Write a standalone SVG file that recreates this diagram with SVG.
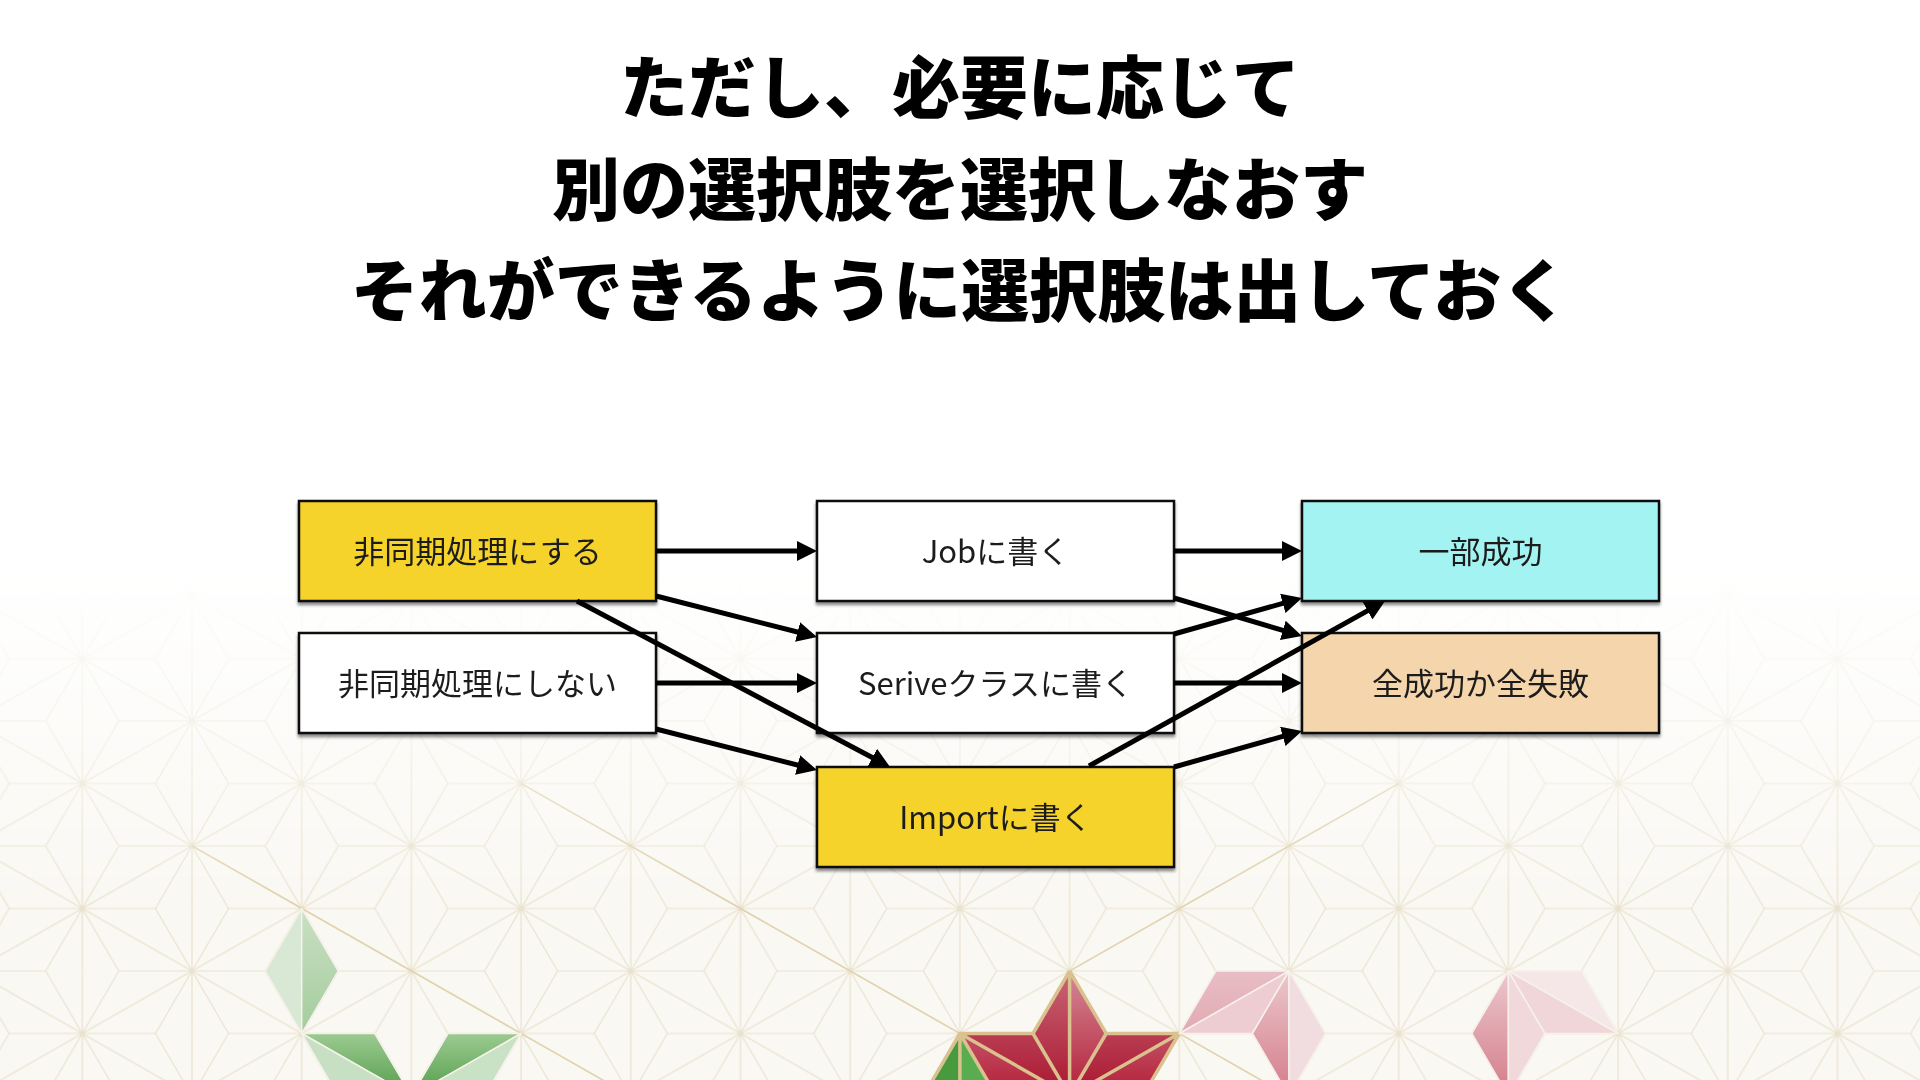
<svg xmlns="http://www.w3.org/2000/svg" width="1920" height="1080" viewBox="0 0 1920 1080">
<style>
.title{font-family:"Noto Sans CJK JP","Noto Sans CJK SC",sans-serif;font-weight:900;font-size:68px;fill:#000;text-anchor:middle}
.label{font-family:"Noto Sans CJK JP","Noto Sans CJK SC",sans-serif;font-weight:400;font-size:31px;fill:#1c1c1c;text-anchor:middle}
.box{stroke:#111;stroke-width:2.5}
.edge{stroke:#000;stroke-width:5;fill:none;marker-end:url(#arrow)}
.pl{stroke:#e9e2ce;stroke-width:1.2;fill:none}
.dl{stroke:#dfd1aa;stroke-width:1.4;fill:none}
.gold{stroke:#d9c28f;stroke-width:3.5;fill:none;stroke-linejoin:round}
.sh{stroke:#f6f2ea;stroke-width:1.5;stroke-linejoin:round}
</style>
<defs>
<marker id="arrow" markerUnits="userSpaceOnUse" markerWidth="20" markerHeight="20" refX="10" refY="10" orient="auto">
<path d="M0,0 L20,10 L0,20 Z" fill="#000"/>
</marker>
<filter id="shadow" x="-5%" y="-10%" width="110%" height="130%">
<feDropShadow dx="0" dy="3" stdDeviation="1.5" flood-color="#000" flood-opacity="0.45"/>
</filter>
<pattern id="asa" patternUnits="userSpaceOnUse" x="82.3" y="33.5" width="219.4" height="125">
<path class="pl" d="M0,0V125M109.7,0V125M219.4,0V125M0,0L219.4,125M0,125L219.4,0
M36.57,62.5L0,0M36.57,62.5L0,125M36.57,62.5L109.7,62.5
M182.83,62.5L219.4,0M182.83,62.5L219.4,125M182.83,62.5L109.7,62.5
M73.13,0L0,0M73.13,0L109.7,62.5M73.13,0L109.7,-62.5
M146.27,0L219.4,0M146.27,0L109.7,62.5M146.27,0L109.7,-62.5
M73.13,125L0,125M73.13,125L109.7,62.5M73.13,125L109.7,187.5
M146.27,125L219.4,125M146.27,125L109.7,62.5M146.27,125L109.7,187.5"/>
</pattern>
<linearGradient id="fadeG" gradientUnits="userSpaceOnUse" x1="0" y1="570" x2="0" y2="900">
<stop offset="0" stop-color="#fff" stop-opacity="0"/>
<stop offset="1" stop-color="#fff" stop-opacity="1"/>
</linearGradient>
<mask id="fade"><rect width="1920" height="1080" fill="url(#fadeG)"/></mask>
<linearGradient id="redA" gradientUnits="userSpaceOnUse" x1="0" y1="971" x2="0" y2="1080">
<stop offset="0" stop-color="#d48a97"/><stop offset="1" stop-color="#b72a42"/>
</linearGradient>
<linearGradient id="redB" gradientUnits="userSpaceOnUse" x1="0" y1="971" x2="0" y2="1080">
<stop offset="0" stop-color="#c96676"/><stop offset="1" stop-color="#ad1f37"/>
</linearGradient>
<linearGradient id="grnA" gradientUnits="userSpaceOnUse" x1="0" y1="1033" x2="0" y2="1080">
<stop offset="0" stop-color="#9ccb92"/><stop offset="1" stop-color="#66a85c"/>
</linearGradient>
<linearGradient id="grnB" gradientUnits="userSpaceOnUse" x1="0" y1="908" x2="0" y2="1033">
<stop offset="0" stop-color="#c9e0c4"/><stop offset="1" stop-color="#a4cc9d"/>
</linearGradient>
<linearGradient id="pnkA" gradientUnits="userSpaceOnUse" x1="0" y1="971" x2="0" y2="1080">
<stop offset="0" stop-color="#ecc8cd"/><stop offset="1" stop-color="#d68592"/>
</linearGradient>
<linearGradient id="pnkB" gradientUnits="userSpaceOnUse" x1="0" y1="971" x2="0" y2="1033">
<stop offset="0" stop-color="#e8bdc4"/><stop offset="1" stop-color="#e2aab3"/>
</linearGradient>
</defs>

<rect width="1920" height="1080" fill="#ffffff"/>
<g id="background" mask="url(#fade)">
<rect width="1920" height="1080" fill="#faf8f3"/>
<rect width="1920" height="1080" fill="url(#asa)"/>
<path class="dl" d="M192.3,846L630.8,1096M521.1,783.5L959.9,1033.5M1398.7,783.5L1069.6,971M1179.3,1033.5L1289,1096"/>
</g>

<g id="decoration">
<polygon class="sh" points="301.7,908.5 265.1,971 301.7,1033.5" fill="#d8e8d4"/>
<polygon class="sh" points="301.7,908.5 338.3,971 301.7,1033.5" fill="url(#grnB)"/>
<polygon class="sh" points="301.7,1033.5 374.8,1033.5 411.4,1096" fill="url(#grnA)"/>
<polygon class="sh" points="301.7,1033.5 411.4,1096 338.3,1096" fill="#c7dfc2"/>
<polygon class="sh" points="448,1033.5 521.1,1033.5 411.4,1096" fill="url(#grnA)"/>
<polygon class="sh" points="521.1,1033.5 484.5,1096 411.4,1096" fill="#c9e1c4"/>
<polygon points="959.9,1033.5 923.3,1096 959.9,1158.5" fill="#479a3e"/>
<polygon points="959.9,1033.5 996.5,1096 959.9,1158.5" fill="#5aad4f"/>
<polygon points="1069.6,971 1033,1033.5 1069.6,1096" fill="url(#redB)"/>
<polygon points="1069.6,971 1106.2,1033.5 1069.6,1096" fill="url(#redA)"/>
<polygon points="959.9,1033.5 1033,1033.5 1069.6,1096" fill="url(#redB)"/>
<polygon points="959.9,1033.5 1069.6,1096 996.5,1096" fill="url(#redA)"/>
<polygon points="1179.3,1033.5 1106.2,1033.5 1069.6,1096" fill="url(#redB)"/>
<polygon points="1179.3,1033.5 1069.6,1096 1142.7,1096" fill="url(#redA)"/>
<path class="gold" d="M959.9,1033.5L923.3,1096M959.9,1033.5V1100M959.9,1033.5L996.5,1096
M1069.6,971L1033,1033.5L959.9,1033.5L1069.6,1096M1069.6,971V1096M1069.6,971L1106.2,1033.5L1179.3,1033.5L1069.6,1096
M1033,1033.5L1069.6,1096M1106.2,1033.5L1069.6,1096M996.5,1096L1069.6,1096L1142.7,1096M1179.3,1033.5L1142.7,1096"/>
<polygon class="sh" points="1179.3,1033.5 1215.9,971 1289,971" fill="url(#pnkB)"/>
<polygon class="sh" points="1179.3,1033.5 1289,971 1252.4,1033.5" fill="#edcdd1"/>
<polygon class="sh" points="1289,971 1252.4,1033.5 1289,1096" fill="url(#pnkA)"/>
<polygon class="sh" points="1289,971 1325.6,1033.5 1289,1096" fill="#f1dcdf"/>
<polygon class="sh" points="1508.4,971 1471.8,1033.5 1508.4,1096" fill="url(#pnkA)"/>
<polygon class="sh" points="1508.4,971 1545,1033.5 1508.4,1096" fill="#f0d8db"/>
<polygon class="sh" points="1508.4,971 1581.5,971 1618.1,1033.5" fill="#f5e7e8"/>
<polygon class="sh" points="1508.4,971 1618.1,1033.5 1545,1033.5" fill="#f0d6d9"/>
</g>

<g id="title">
<text class="title" x="960" y="113">ただし、必要に応じて</text>
<text class="title" x="960" y="215">別の選択肢を選択しなおす</text>
<text class="title" x="960" y="316">それができるように選択肢は出しておく</text>
</g>

<g id="node-async" filter="url(#shadow)">
<rect class="box" x="299" y="501" width="357" height="100" fill="#f6d32b"/>
<text class="label" x="477.5" y="563">非同期処理にする</text>
</g>
<g id="node-sync" filter="url(#shadow)">
<rect class="box" x="299" y="633" width="357" height="100" fill="#ffffff"/>
<text class="label" x="477.5" y="695">非同期処理にしない</text>
</g>
<g id="node-job" filter="url(#shadow)">
<rect class="box" x="817" y="501" width="357" height="100" fill="#ffffff"/>
<text class="label" x="995.5" y="563">Jobに書く</text>
</g>
<g id="node-service" filter="url(#shadow)">
<rect class="box" x="817" y="633" width="357" height="100" fill="#ffffff"/>
<text class="label" x="995.5" y="695">Seriveクラスに書く</text>
</g>
<g id="node-import" filter="url(#shadow)">
<rect class="box" x="817" y="767" width="357" height="100" fill="#f6d32b"/>
<text class="label" x="995.5" y="829">Importに書く</text>
</g>
<g id="node-partial" filter="url(#shadow)">
<rect class="box" x="1302" y="501" width="357" height="100" fill="#a3f3f2"/>
<text class="label" x="1480.5" y="563">一部成功</text>
</g>
<g id="node-all" filter="url(#shadow)">
<rect class="box" x="1302" y="633" width="357" height="100" fill="#f5d5ab"/>
<text class="label" x="1480.5" y="695">全成功か全失敗</text>
</g>

<g id="connectors">
<line class="edge" x1="656" y1="551" x2="807" y2="551"/>
<line class="edge" x1="656" y1="596" x2="807.3" y2="634.5"/>
<line class="edge" x1="577" y1="601" x2="881.2" y2="762.3"/>
<line class="edge" x1="656" y1="683" x2="807" y2="683"/>
<line class="edge" x1="656" y1="729" x2="807.3" y2="767.5"/>
<line class="edge" x1="1174" y1="551" x2="1292" y2="551"/>
<line class="edge" x1="1174" y1="598" x2="1292.4" y2="633.2"/>
<line class="edge" x1="1174" y1="634" x2="1292.4" y2="600.7"/>
<line class="edge" x1="1174" y1="683" x2="1292" y2="683"/>
<line class="edge" x1="1089" y1="766" x2="1376.3" y2="605.9"/>
<line class="edge" x1="1174" y1="767" x2="1292.4" y2="733.7"/>
</g>
</svg>
